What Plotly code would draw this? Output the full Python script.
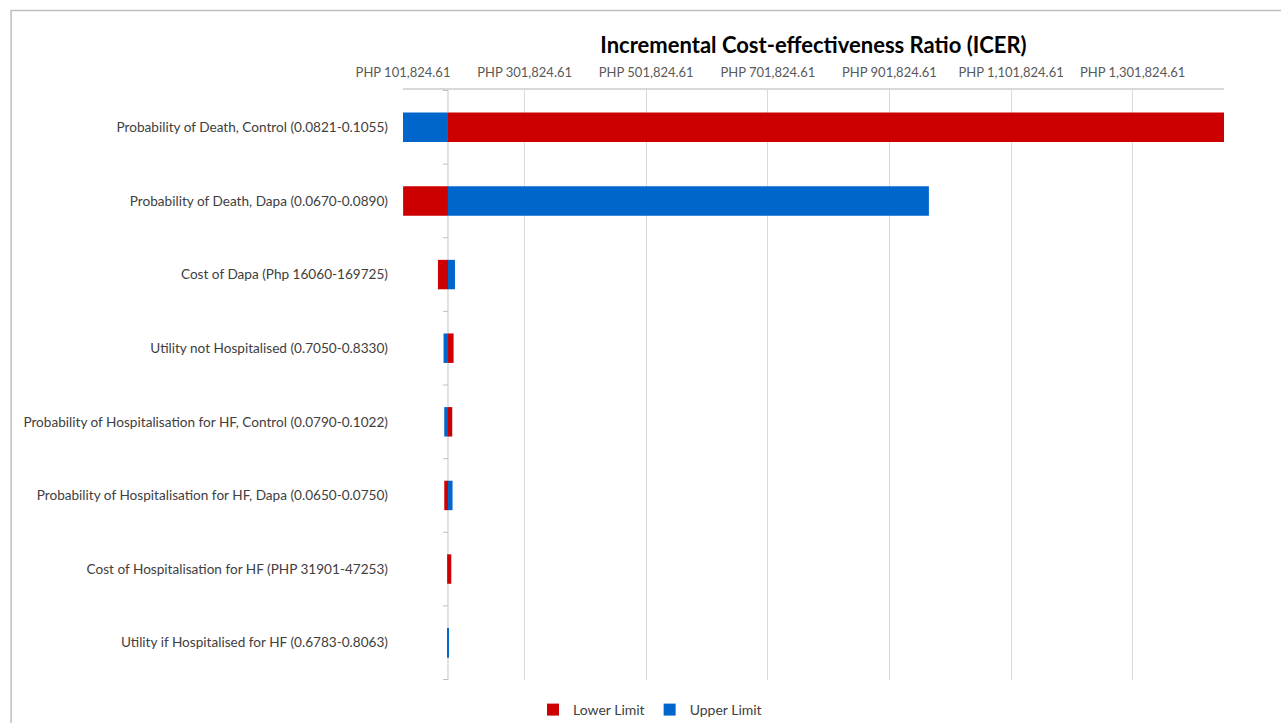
import plotly.graph_objects as go

# ---- data ----
categories = [
    "Probability of Death, Control (0.0821-0.1055)",
    "Probability of Death, Dapa (0.0670-0.0890)",
    "Cost of Dapa (Php 16060-169725)",
    "Utility not Hospitalised (0.7050-0.8330)",
    "Probability of Hospitalisation for HF, Control (0.0790-0.1022)",
    "Probability of Hospitalisation for HF, Dapa (0.0650-0.0750)",
    "Cost of Hospitalisation for HF (PHP 31901-47253)",
    "Utility if Hospitalised for HF (0.6783-0.8063)",
]
base_icer = 175800.0
lower_limit = [1452000, 102000, 159300, 185000, 182800, 169700, 181200, 176500]
upper_limit = [101824.61, 966700, 187300, 168500, 169700, 183300, 175200, 176200]
tick_vals = [101824.61, 301824.61, 501824.61, 701824.61, 901824.61, 1101824.61, 1301824.61]
tick_text = ["PHP 101,824.61", "PHP 301,824.61", "PHP 501,824.61", "PHP 701,824.61",
             "PHP 901,824.61", "PHP 1,101,824.61", "PHP 1,301,824.61"]
x_range = [101824.61, 1452000]

RED = "#CC0000"
BLUE = "#0066CC"
FONT = "Lato"

fig = go.Figure()
fig.add_trace(go.Bar(
    y=categories, x=[v - base_icer for v in lower_limit], base=base_icer,
    orientation="h", name="Lower Limit", marker=dict(color=RED, line=dict(width=0)),
    width=0.4,
))
fig.add_trace(go.Bar(
    y=categories, x=[v - base_icer for v in upper_limit], base=base_icer,
    orientation="h", name="Upper Limit", marker=dict(color=BLUE, line=dict(width=0)),
    width=0.4,
))

shapes = []
# base axis line
shapes.append(dict(type="line", xref="x", yref="paper", x0=base_icer, x1=base_icer, y0=0, y1=1,
                   line=dict(color="#D9D9D9", width=1.5), layer="below"))
# tick marks at category boundaries
for k in range(len(categories) + 1):
    shapes.append(dict(type="line", xref="x", yref="y", xsizemode="pixel", xanchor=base_icer,
                       x0=-5, x1=0, y0=k - 0.5, y1=k - 0.5,
                       line=dict(color="#BFBFBF", width=1)))
# chart frame
shapes.append(dict(type="rect", xref="paper", yref="paper",
                   x0=(10.5 - 402.7) / 821.6, x1=1.2,
                   y0=-0.3, y1=(680 - 10.5) / 590,
                   line=dict(color="#BFBFBF", width=1.5), fillcolor="rgba(0,0,0,0)"))

fig.update_layout(
    width=1281, height=723,
    margin=dict(l=403, r=57, t=90, b=43, autoexpand=False),
    paper_bgcolor="white", plot_bgcolor="white",
    barmode="overlay",
    font=dict(family=FONT, size=14, color="#404040"),
    title=dict(text="<b>Incremental Cost-effectiveness Ratio (ICER)</b>",
               x=(813.5) / 1281, xanchor="center", y=1 - 45 / 723, yanchor="middle",
               font=dict(family=FONT, size=22, color="#000000")),
    xaxis=dict(side="top", range=x_range, tickvals=tick_vals, ticktext=tick_text,
               showgrid=True, gridcolor="#D9D9D9", gridwidth=1,
               showline=True, linecolor="#D9D9D9", linewidth=1.5, ticks="",
               zeroline=False, tickfont=dict(size=13, color="#595959"),
               ticklabelstandoff=6, automargin=False),
    yaxis=dict(autorange="reversed", showgrid=False, zeroline=False, showline=False,
               ticks="", tickfont=dict(size=13.6, color="#404040"), ticklabelstandoff=14,
               automargin=False),
    legend=dict(orientation="h", xref="container", x=650 / 1281, xanchor="center",
                yref="container", y=1 - 710 / 723, yanchor="middle",
                font=dict(size=14, color="#404040"), itemwidth=30, traceorder="normal",
                itemclick=False),
    shapes=shapes,
    showlegend=True,
)

fig.write_html("out.html")
